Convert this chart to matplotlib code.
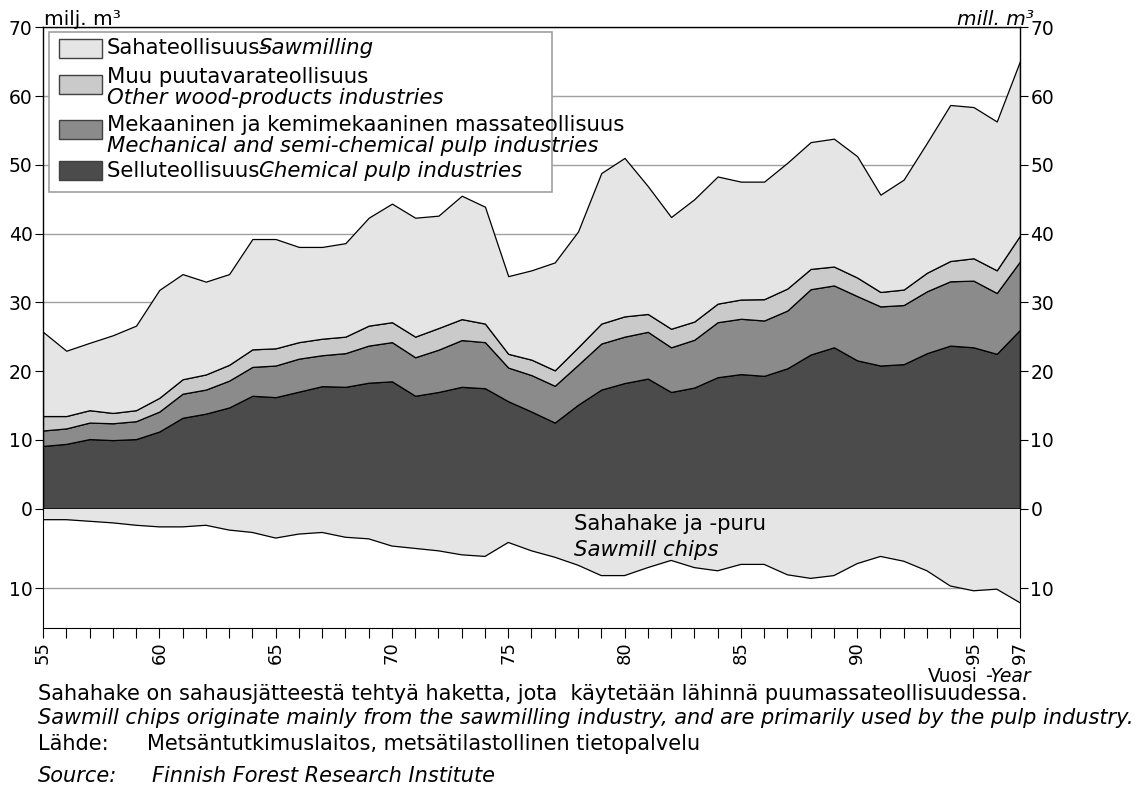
import numpy as np
import matplotlib
matplotlib.use("Agg")
import matplotlib.pyplot as plt
from matplotlib.patches import Rectangle
from matplotlib.ticker import MultipleLocator, FixedLocator

# roundwood by-products used by industry, mill. m3
years = list(range(1955, 1998))
chemical = [9.1, 9.4, 10.1, 9.95, 10.1, 11.2, 13.2, 13.8, 14.7, 16.4,
            16.2, 17.0, 17.8, 17.7, 18.3, 18.5, 16.4, 16.95, 17.7, 17.5,
            15.6, 14.1, 12.5, 15.1, 17.3, 18.25, 18.9, 16.95, 17.6, 19.1,
            19.55, 19.3, 20.4, 22.4, 23.45, 21.55, 20.8, 21.0, 22.6, 23.7,
            23.45, 22.5, 26.0]
mechanical = [2.25, 2.25, 2.4, 2.45, 2.6, 2.9, 3.5, 3.5, 3.9, 4.2,
              4.6, 4.8, 4.5, 4.9, 5.4, 5.7, 5.6, 6.15, 6.8, 6.7,
              4.9, 5.3, 5.35, 5.8, 6.7, 6.75, 6.8, 6.5, 6.95, 8.0,
              8.05, 8.05, 8.4, 9.5, 9.0, 9.35, 8.6, 8.6, 9.0, 9.35,
              9.7, 8.85, 9.95]
other_wood = [2.1, 1.8, 1.8, 1.5, 1.6, 2.0, 2.1, 2.2, 2.3, 2.55,
              2.5, 2.4, 2.4, 2.4, 2.9, 2.9, 3.0, 3.15, 3.05, 2.7,
              2.0, 2.25, 2.25, 2.55, 2.9, 2.95, 2.6, 2.7, 2.65, 2.7,
              2.8, 3.1, 3.2, 2.95, 2.75, 2.7, 2.1, 2.25, 2.7, 2.95,
              3.25, 3.3, 3.75]
sawmilling = [12.25, 9.5, 9.8, 11.3, 12.3, 15.7, 15.3, 13.5, 13.2, 16.05,
              15.9, 13.85, 13.35, 13.6, 15.7, 17.25, 17.3, 16.35, 17.95, 17.0,
              11.3, 13.0, 15.7, 16.85, 21.9, 23.05, 18.6, 16.25, 17.8, 18.5,
              17.15, 17.1, 18.3, 18.45, 18.6, 17.65, 14.15, 16.0, 18.9, 22.7,
              22.0, 21.65, 25.4]
chips = [1.4, 1.4, 1.6, 1.8, 2.1, 2.3, 2.3, 2.1, 2.7, 3.0,
         3.7, 3.2, 3.0, 3.6, 3.8, 4.7, 5.0, 5.3, 5.8, 6.0,
         4.25, 5.3, 6.1, 7.1, 8.4, 8.4, 7.4, 6.5, 7.4, 7.8,
         7.0, 7.0, 8.3, 8.75, 8.4, 6.9, 6.0, 6.6, 7.8, 9.7,
         10.3, 10.1, 11.8]

year_ticks = [1955, 1960, 1965, 1970, 1975, 1980, 1985, 1990, 1995, 1997]

colors = ["#4b4b4b", "#8b8b8b", "#cacaca", "#e5e5e5"]
legend_rows = [
    ("Sahateollisuus-", "Sawmilling", None, colors[3]),
    ("Muu puutavarateollisuus", "Other wood-products industries", "two", colors[2]),
    ("Mekaaninen ja kemimekaaninen massateollisuus",
     "Mechanical and semi-chemical pulp industries", "two", colors[1]),
    ("Selluteollisuus -", "Chemical pulp industries", None, colors[0]),
]

W, H = 1145, 785
fig = plt.figure(figsize=(W / 100, H / 100), dpi=100)


def fx(x):
    return x / W


def fy(y):
    return 1 - y / H


x0, x1 = 43, 1020
ax = fig.add_axes([fx(x0), fy(508.5), fx(x1) - fx(x0), fy(27.3) - fy(508.5)])
axb = fig.add_axes([fx(x0), fy(628.3), fx(x1) - fx(x0), fy(508.5) - fy(628.3)])

# upper panel: stacked industries
ax.stackplot(years, chemical, mechanical, other_wood, sawmilling,
             colors=colors, edgecolor="black", linewidth=0.9)
ax.set_xlim(1955, 1997)
ax.set_ylim(0, 70)
ax.yaxis.set_major_locator(MultipleLocator(10))
ax.set_axisbelow(True)
ax.grid(axis="y", color="#a0a0a0", linewidth=1.0)
ax.set_xticks([])
ax.tick_params(axis="y", direction="out", length=6, width=0.8, pad=1.5,
               labelsize=13.5, right=True, labelright=True)
for s in ax.spines.values():
    s.set_linewidth(1.0)

# lower panel: sawmill chips, drawn downwards
axb.fill_between(years, 0, chips, color=colors[3], linewidth=0)
axb.plot(years, chips, color="black", linewidth=0.9)
axb.set_xlim(1955, 1997)
axb.set_ylim(15, 0)
axb.yaxis.set_major_locator(FixedLocator([10]))
axb.set_axisbelow(True)
axb.grid(axis="y", color="#a0a0a0", linewidth=1.0)
axb.spines["top"].set_visible(False)
axb.tick_params(axis="y", direction="out", length=6, width=0.8, pad=1.5,
                labelsize=13.5, right=True, labelright=True)
axb.xaxis.set_major_locator(FixedLocator(year_ticks))
axb.set_xticklabels([str(y)[2:] for y in year_ticks], rotation=90)
axb.xaxis.set_minor_locator(MultipleLocator(1))
axb.tick_params(axis="x", which="both", direction="out", length=7, width=0.8,
                pad=2.5, labelsize=13)

# units
fig.text(fx(44), fy(25), "milj. m³", fontsize=14.5, va="baseline", ha="left")
fig.text(fx(1034), fy(25), "mill. m³", fontsize=14.5, va="baseline", ha="right",
         style="italic")

# legend box (text runs over the frame as in the original)
fig.add_artist(Rectangle((fx(49), fy(192.3)), fx(551.7) - fx(49),
                         fy(32.3) - fy(192.3), transform=fig.transFigure,
                         facecolor="white", edgecolor="#a0a0a0", linewidth=1.2))
patch_y = [48.5, 84.5, 129, 170.5]
text_y = [[48.3], [76.7, 98.3], [125, 146], [170.7]]
for (fi, en, kind, col), py, ty in zip(legend_rows, patch_y, text_y):
    fig.add_artist(Rectangle((fx(59), fy(py + 9.5)), fx(102) - fx(59),
                             fy(py - 9.5) - fy(py + 9.5),
                             transform=fig.transFigure, facecolor=col,
                             edgecolor="#404040", linewidth=1.0))
    if kind == "two":
        fig.text(fx(107), fy(ty[0]), fi, fontsize=15.3, va="center")
        fig.text(fx(107), fy(ty[1]), en, fontsize=15.3, va="center", style="italic")
    else:
        fig.text(fx(107), fy(ty[0]), fi, fontsize=15.3, va="center")
        fig.text(fx(259), fy(ty[0]), en, fontsize=15.3, va="center", style="italic")

# chips label
fig.text(fx(574), fy(524), "Sahahake ja -puru", fontsize=15.3, va="center")
fig.text(fx(574), fy(549.5), "Sawmill chips", fontsize=15.3, va="center",
         style="italic")

# x axis title
fig.text(fx(978), fy(676.5), "Vuosi", fontsize=13.5, va="center", ha="right")
fig.text(fx(985), fy(676.5), "-Year", fontsize=13.5, va="center", ha="left",
         style="italic")

# notes
fig.text(fx(38), fy(694), "Sahahake on sahausjätteestä tehtyä haketta, jota  "
         "käytetään lähinnä puumassateollisuudessa.", fontsize=15, va="center")
fig.text(fx(38), fy(718), "Sawmill chips originate mainly from the sawmilling "
         "industry, and are primarily used by the pulp industry.",
         fontsize=15, va="center", style="italic")
fig.text(fx(38), fy(744), "Lähde:", fontsize=15, va="center")
fig.text(fx(147), fy(744), "Metsäntutkimuslaitos, metsätilastollinen tietopalvelu",
         fontsize=15, va="center")
fig.text(fx(38), fy(775.5), "Source:", fontsize=15, va="center", style="italic")
fig.text(fx(152), fy(775.5), "Finnish Forest Research Institute",
         fontsize=15, va="center", style="italic")

fig.savefig("out.png", dpi=100)
